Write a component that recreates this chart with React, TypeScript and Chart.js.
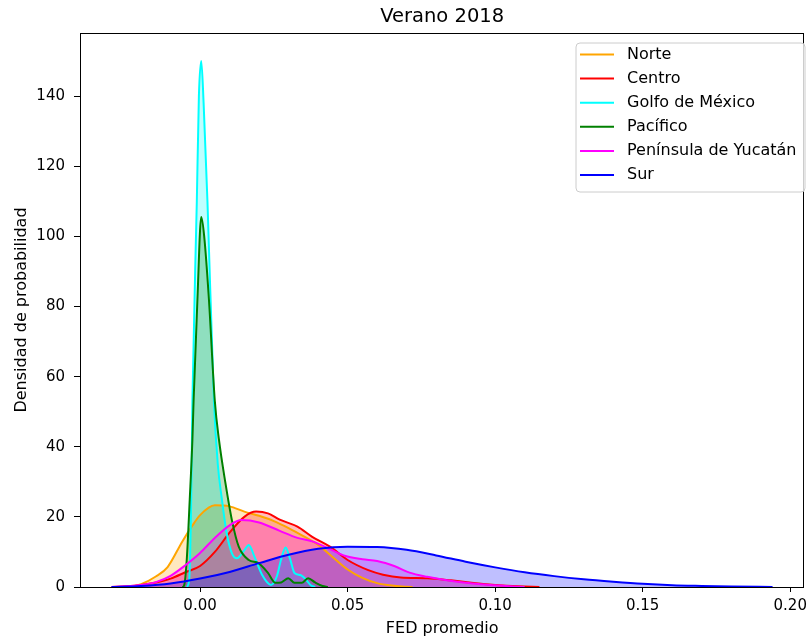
import React, { useEffect, useRef } from "react";
import { Chart, registerables } from "chart.js";

Chart.register(...registerables);

// ---- Data (FED promedio vs densidad) ----
const norteFED = [-0.024, -0.02, -0.015, -0.011, -0.006, -0.003, 0.0, 0.005, 0.01, 0.015, 0.02, 0.025, 0.03, 0.035, 0.04, 0.045, 0.05, 0.055, 0.06, 0.065, 0.07, 0.072];
const norteDens = [0, 0.8, 3.0, 5.7, 13, 17, 20.5, 23.3, 23, 21.5, 20.3, 18.8, 16.8, 14.5, 12.0, 8.5, 5.0, 2.6, 1.1, 0.4, 0.1, 0];

const centroFED = [-0.03, -0.025, -0.02, -0.015, -0.01, -0.005, 0.0, 0.005, 0.01, 0.015, 0.019, 0.023, 0.027, 0.033, 0.038, 0.044, 0.05, 0.057, 0.062, 0.068, 0.077, 0.085, 0.092, 0.1, 0.108, 0.115];
const centroDens = [0, 0.2, 0.6, 1.3, 2.4, 4.2, 6.0, 10, 15.5, 20, 21.5, 21, 19.2, 17.2, 14.3, 11.5, 7.7, 4.8, 3.5, 2.7, 2.5, 1.9, 1.2, 0.6, 0.2, 0];

const golfoFED = [-0.0045, -0.0037, -0.003, -0.0026, -0.0011, -0.0004, 0.0004, 0.0012, 0.0025, 0.0047, 0.006, 0.0074, 0.009, 0.0108, 0.0125, 0.015, 0.0165, 0.0185, 0.021, 0.024, 0.026, 0.0275, 0.029, 0.0305, 0.032, 0.034, 0.0355, 0.0375, 0.039];
const golfoDens = [0, 2, 25, 53, 110, 140, 150, 138, 110, 53, 35, 25, 15.4, 9.6, 8.2, 10.5, 12, 8.5, 3.5, 0.6, 3, 8, 11.3, 8, 4, 3.4, 2.5, 0.5, 0];

const pacificoFED = [-0.006, -0.0054, -0.0045, -0.0035, -0.0026, -0.0022, -0.0009, 0.0004, 0.0014, 0.003, 0.005, 0.0064, 0.0086, 0.0108, 0.0131, 0.0165, 0.0198, 0.023, 0.0255, 0.0275, 0.0299, 0.032, 0.0345, 0.0366, 0.039, 0.0415, 0.0433];
const pacificoDens = [0, 0.5, 8, 25, 42, 53, 82, 105.5, 100, 82, 53, 42, 29.6, 19, 11.5, 7.7, 6.8, 4, 1.2, 1.3, 2.5, 1.2, 1.2, 2.5, 1.3, 0.3, 0];

const peninsulaFED = [-0.03, -0.025, -0.02, -0.015, -0.01, -0.005, 0.0, 0.005, 0.01, 0.014, 0.02, 0.027, 0.033, 0.038, 0.044, 0.049, 0.055, 0.06, 0.066, 0.071, 0.077, 0.083, 0.09, 0.095, 0.1, 0.105, 0.11];
const peninsulaDens = [0, 0.2, 0.6, 1.4, 3.2, 6.2, 9.7, 14, 17.6, 19.1, 18.4, 16, 14, 13, 10.8, 8.9, 7.9, 7.4, 5.9, 4.1, 2.9, 2.0, 1.2, 0.8, 0.5, 0.2, 0];

const surFED = [-0.03, -0.02, -0.01, 0.0, 0.01, 0.02, 0.03, 0.04, 0.05, 0.06, 0.07, 0.08, 0.09, 0.1, 0.11, 0.12, 0.13, 0.14, 0.15, 0.16, 0.17, 0.18, 0.194];
const surDens = [0, 0.3, 1.0, 2.4, 4.3, 6.8, 9.2, 10.9, 11.5, 11.4, 10.6, 9.0, 7.2, 5.6, 4.2, 3.1, 2.2, 1.5, 0.9, 0.5, 0.3, 0.15, 0];

const seriesNames = ["Norte", "Centro", "Golfo de México", "Pacífico", "Península de Yucatán", "Sur"];
const seriesColors = ["#ffa500", "#ff0000", "#00ffff", "#008000", "#ff00ff", "#0000ff"];
const seriesFills = [
  "rgba(255,165,0,0.25)",
  "rgba(255,0,0,0.25)",
  "rgba(0,255,255,0.25)",
  "rgba(0,128,0,0.25)",
  "rgba(255,0,255,0.25)",
  "rgba(0,0,255,0.25)",
];
const seriesX = [norteFED, centroFED, golfoFED, pacificoFED, peninsulaFED, surFED];
const seriesY = [norteDens, centroDens, golfoDens, pacificoDens, peninsulaDens, surDens];

const xTicks = [0.0, 0.05, 0.1, 0.15, 0.2];
const yTicks = [0, 20, 40, 60, 80, 100, 120, 140];

const chartTitle = "Verano 2018";
const xTitle = "FED promedio";
const yTitle = "Densidad de probabilidad";

const FONT = "'DejaVu Sans', sans-serif";

const framePlugin = {
  id: "framePlugin",
  afterDraw(chart: any) {
    const { ctx, chartArea } = chart;
    const { left, top, right, bottom } = chartArea;
    ctx.save();
    // frame
    ctx.strokeStyle = "#000";
    ctx.lineWidth = 1;
    ctx.strokeRect(Math.round(left) + 0.5, Math.round(top) + 0.5, Math.round(right - left) - 1, Math.round(bottom - top));
    // title
    ctx.fillStyle = "#000";
    ctx.font = `19.5px ${FONT}`;
    ctx.textAlign = "center";
    ctx.textBaseline = "middle";
    ctx.fillText(chartTitle, (left + right) / 2, 17);

    // legend
    const bx = 576, by = 43, bw = 229, bh = 149;
    ctx.beginPath();
    const r = 4;
    ctx.moveTo(bx + r, by);
    ctx.lineTo(bx + bw - r, by);
    ctx.quadraticCurveTo(bx + bw, by, bx + bw, by + r);
    ctx.lineTo(bx + bw, by + bh - r);
    ctx.quadraticCurveTo(bx + bw, by + bh, bx + bw - r, by + bh);
    ctx.lineTo(bx + r, by + bh);
    ctx.quadraticCurveTo(bx, by + bh, bx, by + bh - r);
    ctx.lineTo(bx, by + r);
    ctx.quadraticCurveTo(bx, by, bx + r, by);
    ctx.closePath();
    ctx.fillStyle = "rgba(255,255,255,0.8)";
    ctx.fill();
    ctx.strokeStyle = "#cccccc";
    ctx.lineWidth = 1;
    ctx.stroke();

    ctx.font = `16px ${FONT}`;
    ctx.textAlign = "left";
    ctx.textBaseline = "middle";
    seriesNames.forEach((name, i) => {
      const y = 54.5 + i * 24.1;
      ctx.strokeStyle = seriesColors[i];
      ctx.lineWidth = 2;
      ctx.beginPath();
      ctx.moveTo(580, y);
      ctx.lineTo(614, y);
      ctx.stroke();
      ctx.fillStyle = "#000";
      ctx.fillText(name, 627, y);
    });
    ctx.restore();
  },
};

export default function App() {
  const canvasRef = useRef<HTMLCanvasElement | null>(null);

  useEffect(() => {
    if (!canvasRef.current) return;
    const datasets = seriesNames.map((name, i) => ({
      label: name,
      data: seriesX[i].map((x, j) => ({ x, y: seriesY[i][j] })),
      borderColor: seriesColors[i],
      backgroundColor: seriesFills[i],
      borderWidth: 2,
      pointRadius: 0,
      fill: "origin",
      cubicInterpolationMode: "monotone" as const,
      order: seriesNames.length - 1 - i,
    }));

    const chart = new Chart(canvasRef.current, {
      type: "line",
      data: { datasets },
      plugins: [framePlugin],
      options: {
        animation: false,
        responsive: false,
        maintainAspectRatio: false,
        layout: { padding: { left: 0, top: 33, right: 2, bottom: 0 } },
        plugins: {
          legend: { display: false },
          title: { display: false },
          tooltip: { enabled: false },
          filler: { drawTime: "beforeDatasetsDraw" },
        } as any,
        scales: {
          x: {
            type: "linear",
            min: -0.04069,
            max: 0.20477,
            afterFit: (scale: any) => {
              scale.height = 53;
            },
            afterBuildTicks: (scale: any) => {
              scale.ticks = xTicks.map((v) => ({ value: v }));
            },
            grid: { display: true, drawOnChartArea: false, drawTicks: true, tickLength: 5, color: "#000" },
            border: { display: false },
            ticks: {
              color: "#000",
              font: { family: FONT, size: 15 },
              padding: 5,
              maxRotation: 0,
              autoSkip: false,
              callback: (v: any) => Number(v).toFixed(2),
            },
            title: {
              display: true,
              text: xTitle,
              color: "#000",
              font: { family: FONT, size: 16 },
              padding: { top: 0, bottom: 1.5 },
            },
          },
          y: {
            type: "linear",
            min: 0,
            max: 158,
            afterFit: (scale: any) => {
              scale.width = 80;
            },
            afterBuildTicks: (scale: any) => {
              scale.ticks = yTicks.map((v) => ({ value: v }));
            },
            grid: { display: true, drawOnChartArea: false, drawTicks: true, tickLength: 6, color: "#000" },
            border: { display: false },
            ticks: {
              color: "#000",
              font: { family: FONT, size: 15 },
              padding: 9,
              autoSkip: false,
              callback: (v: any) => String(v),
            },
            title: {
              display: true,
              text: yTitle,
              color: "#000",
              font: { family: FONT, size: 16 },
              padding: { top: 12.5, bottom: 0 },
            },
          },
        },
      },
    });
    return () => chart.destroy();
  }, []);

  return (
    <div style={{ position: "fixed", left: 0, top: 0, width: 812, height: 640, background: "#fff" }}>
      <canvas ref={canvasRef} width={812} height={640} style={{ width: 812, height: 640 }} />
    </div>
  );
}
